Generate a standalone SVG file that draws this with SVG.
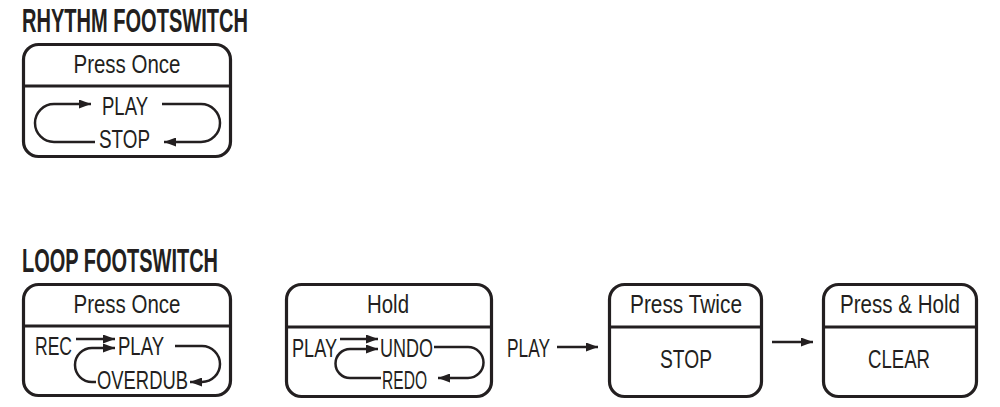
<svg xmlns="http://www.w3.org/2000/svg" width="1000" height="407" viewBox="0 0 1000 407">
<style>
.t{font-family:"Liberation Sans Narrow","Liberation Sans",Arial,sans-serif;font-size:25px;fill:#231f20}
.h{font-family:"Liberation Sans Narrow","Liberation Sans",Arial,sans-serif;font-size:33px;font-weight:bold;fill:#231f20}
.box{fill:#fff;stroke:#231f20;stroke-width:3.2}
.div{stroke:#231f20;stroke-width:3.2}
.ln{fill:none;stroke:#231f20;stroke-width:2.5;marker-end:url(#ah)}
</style>
<defs>
<marker id="ah" markerUnits="userSpaceOnUse" markerWidth="13" markerHeight="9" refX="12" refY="4.5" orient="auto">
<path d="M0,0 L12,4.5 L0,9 z" fill="#231f20"/>
</marker>
</defs>
<rect width="1000" height="407" fill="#fff"/>
<text class="h" x="22" y="32" textLength="226" lengthAdjust="spacingAndGlyphs">RHYTHM FOOTSWITCH</text>
<text class="h" x="22" y="272" textLength="196" lengthAdjust="spacingAndGlyphs">LOOP FOOTSWITCH</text>

<g id="rhythm-press-once">
<rect class="box" x="23.5" y="44.5" width="207" height="112" rx="15"/>
<line class="div" x1="23.5" y1="86" x2="230.5" y2="86"/>
<text class="t" x="127" y="73" text-anchor="middle" textLength="107" lengthAdjust="spacingAndGlyphs">Press Once</text>
<text class="t" x="102" y="115" textLength="46" lengthAdjust="spacingAndGlyphs">PLAY</text>
<text class="t" x="99" y="148" textLength="51" lengthAdjust="spacingAndGlyphs">STOP</text>
</g>

<g id="loop-press-once">
<rect class="box" x="23.5" y="284.5" width="207" height="111" rx="15"/>
<line class="div" x1="23.5" y1="326" x2="230.5" y2="326"/>
<text class="t" x="127" y="313" text-anchor="middle" textLength="107" lengthAdjust="spacingAndGlyphs">Press Once</text>
<text class="t" x="35" y="355" textLength="37" lengthAdjust="spacingAndGlyphs">REC</text>
<text class="t" x="118" y="355" textLength="46" lengthAdjust="spacingAndGlyphs">PLAY</text>
<text class="t" x="97" y="389" textLength="91" lengthAdjust="spacingAndGlyphs">OVERDUB</text>
</g>

<g id="loop-hold">
<rect class="box" x="286.5" y="284.5" width="205" height="112" rx="15"/>
<line class="div" x1="286.5" y1="327" x2="491.5" y2="327"/>
<text class="t" x="388" y="313" text-anchor="middle" textLength="42" lengthAdjust="spacingAndGlyphs">Hold</text>
<text class="t" x="292" y="357" textLength="45" lengthAdjust="spacingAndGlyphs">PLAY</text>
<text class="t" x="380" y="357" textLength="53" lengthAdjust="spacingAndGlyphs">UNDO</text>
<text class="t" x="382" y="389" textLength="45" lengthAdjust="spacingAndGlyphs">REDO</text>
</g>

<g id="play-label">
<text class="t" x="507" y="357" textLength="43" lengthAdjust="spacingAndGlyphs">PLAY</text>
</g>

<g id="loop-press-twice">
<rect class="box" x="609.5" y="284.5" width="152" height="112" rx="15"/>
<line class="div" x1="609.5" y1="327" x2="761.5" y2="327"/>
<text class="t" x="686" y="313" text-anchor="middle" textLength="112" lengthAdjust="spacingAndGlyphs">Press Twice</text>
<text class="t" x="686" y="368" text-anchor="middle" textLength="52" lengthAdjust="spacingAndGlyphs">STOP</text>
</g>

<g id="loop-press-hold">
<rect class="box" x="823.5" y="284.5" width="153" height="112" rx="15"/>
<line class="div" x1="823.5" y1="327" x2="976.5" y2="327"/>
<text class="t" x="900" y="313" text-anchor="middle" textLength="120" lengthAdjust="spacingAndGlyphs">Press &amp; Hold</text>
<text class="t" x="899" y="368" text-anchor="middle" textLength="62" lengthAdjust="spacingAndGlyphs">CLEAR</text>
</g>

<g id="connectors">
<path class="ln" d="M95 142 H54 A19 19 0 0 1 54 104 H91"/>
<path class="ln" d="M162 104 H201 A19 19 0 0 1 201 142 H164"/>
<path class="ln" d="M76 339 H115"/>
<path class="ln" d="M96 382 H92 A17 17 0 0 1 92 348 H115"/>
<path class="ln" d="M175 346 H202 A18 18 0 0 1 202 382 H190"/>
<path class="ln" d="M340 339 H378"/>
<path class="ln" d="M381 378 H350 A14.5 14.5 0 0 1 350 349 H378"/>
<path class="ln" d="M434 347 H468 A15.5 15.5 0 0 1 468 378 H438"/>
<path class="ln" d="M557 347 H598"/>
<path class="ln" d="M772 342 H813"/>
</g>
</svg>
